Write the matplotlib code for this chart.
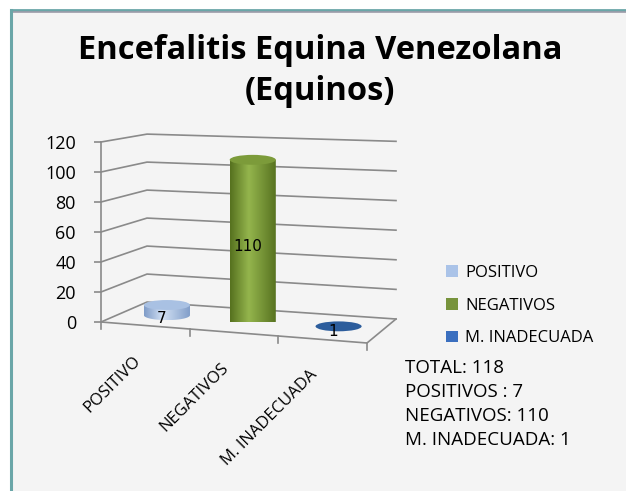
import numpy as np
import matplotlib
matplotlib.use("Agg")
import matplotlib.pyplot as plt
from matplotlib.patches import Ellipse, PathPatch, Patch, Rectangle
from matplotlib.path import Path
from matplotlib.colors import LinearSegmentedColormap
from matplotlib.lines import Line2D

# ---------------- data ----------------
categories = ["POSITIVO", "NEGATIVOS", "M. INADECUADA"]
values = [7, 110, 1]
yticks = [0, 20, 40, 60, 80, 100, 120]
title_lines = ["Encefalitis Equina Venezolana", "(Equinos)"]
summary_lines = ["TOTAL: 118", "POSITIVOS : 7", "NEGATIVOS: 110", "M. INADECUADA: 1"]

# ---------------- styles ----------------
legend_colors = ["#aac3e8", "#77933c", "#3b6fbf"]
body_dark = ["#7f9cc8", "#56711f", "#24528f"]
body_light = ["#d3e1f4", "#94b54d", "#3d71b5"]
top_colors = ["#a9c1e3", "#7c9b3a", "#2c5d9c"]
grid_col = "#8a8a8a"
FONT = "Open Sans"

W, H = 626, 491
fig = plt.figure(figsize=(W / 100, H / 100), dpi=100)
fig.patch.set_facecolor("white")
# chart area background + border
fig.patches.append(Rectangle((10 / W, 0), 1 - 10 / W, 1 - 10 / H, transform=fig.transFigure,
                             facecolor="#f4f4f4", edgecolor="none", zorder=-5))
fig.add_artist(Line2D([10.5 / W, 1], [1 - 9.5 / H, 1 - 9.5 / H], color="#6aa6a8", lw=2.0, zorder=-4))
fig.add_artist(Line2D([10.5 / W, 1], [1 - 11.5 / H, 1 - 11.5 / H], color="#9a9aa8", lw=1.2, zorder=-4))
fig.add_artist(Line2D([10.5 / W, 10.5 / W], [0, 1 - 9.5 / H], color="#6aa6a8", lw=2.2, zorder=-4))

# plot axes: front-left vertical edge = value axis
x0px, x1px, y0px, y1px = 101, 367, 322, 142
ax = fig.add_axes([x0px / W, 1 - y0px / H, (x1px - x0px) / W, (y0px - y1px) / H])
ax.set_facecolor("none")
ncat = len(categories)

FL0 = np.array([0.0, 0.0]); FR0 = np.array([3.0, -14.0])
BL0 = np.array([0.519, 13.3]); BR0 = np.array([3.327, 2.0])
sFL, sFR, sBL, sBR = 1.0, 1.0, 0.933, 0.987


def proj(c, v, d):
    u = c / ncat
    front = FL0 + u * (FR0 - FL0)
    back = BL0 + u * (BR0 - BL0)
    base = front + d * (back - front)
    s = (sFL + u * (sFR - sFL)) * (1 - d) + (sBL + u * (sBR - sBL)) * d
    return base[0], base[1] + v * s


# gridlines: left wall + back wall
for t in yticks:
    p0 = proj(0, t, 0); p1 = proj(0, t, 1); p2 = proj(ncat, t, 1)
    ax.plot([p0[0], p1[0], p2[0]], [p0[1], p1[1], p2[1]], color=grid_col, lw=1.2,
            clip_on=False, zorder=1, solid_joinstyle="miter")
# floor front and right edges
pf = [proj(0, 0, 0), proj(ncat, 0, 0), proj(ncat, 0, 1)]
ax.plot([p[0] for p in pf], [p[1] for p in pf], color=grid_col, lw=1.2, clip_on=False, zorder=1)
# category tick marks on the front edge
for i in range(ncat + 1):
    p = proj(i, 0, 0)
    ax.plot([p[0], p[0]], [p[1], p[1] - 4.5], color=grid_col, lw=1.2, clip_on=False, zorder=1)

# cylinders
cw, eh = 0.52, 6.6
for i, (val, lab) in enumerate(zip(values, categories)):
    c = i + 0.5
    xb, yb = proj(c, 0, 0.5)
    xt, yt = proj(c, val, 0.5)
    th = np.linspace(np.pi, 2 * np.pi, 60)
    arc = np.column_stack([xb + cw / 2 * np.cos(th), yb + eh / 2 * np.sin(th)])
    verts = np.vstack([[[xb - cw / 2, yt]], arc, [[xb + cw / 2, yt]], [[xb - cw / 2, yt]]])
    codes = [Path.MOVETO] + [Path.LINETO] * (len(verts) - 2) + [Path.CLOSEPOLY]
    body = PathPatch(Path(verts, codes), facecolor="none", edgecolor="none", clip_on=False)
    ax.add_patch(body)
    cmap = LinearSegmentedColormap.from_list("c%d" % i, [body_dark[i], body_light[i], body_dark[i]])
    g = np.interp(np.linspace(0, 1, 100), [0, 0.4, 1], [0, 0.5, 1]).reshape(1, -1)
    im = ax.imshow(g, extent=[xb - cw / 2, xb + cw / 2, yb - eh / 2, yt], cmap=cmap,
                   aspect="auto", origin="lower", zorder=3, interpolation="bilinear")
    im.set_clip_path(body)
    im.set_clip_box(None)
    ax.add_patch(Ellipse((xt, yt), cw, eh, facecolor=top_colors[i], edgecolor="none",
                         zorder=4, clip_on=False))
    ty = yb + val * 0.96 / 2 - 2.5 if val > 20 else yb - 2.5
    ax.text(xb - 0.06, ty, str(val), ha="center", va="center", fontsize=11,
            family="DejaVu Sans", color="black", zorder=6)

    # category labels
    pf_ = proj(c, 0, 0)
    ax.text(pf_[0] - 0.02, pf_[1] - 18, lab, rotation=45, ha="right", va="top",
            fontsize=12, family=FONT, color="black")

ax.set_xlim(0, ncat)
ax.set_ylim(0, 120)
ax.set_yticks(yticks)
ax.set_xticks([])
for sp in ["top", "right", "bottom"]:
    ax.spines[sp].set_visible(False)
ax.spines["left"].set_color(grid_col)
ax.spines["left"].set_linewidth(1.2)
ax.tick_params(axis="y", length=5, color=grid_col, width=1.2, pad=13, labelsize=13)
for tl in ax.get_yticklabels():
    tl.set_family(FONT)

# title
fig.text(320 / W, 1 - 50 / H, title_lines[0], ha="center", va="center", fontsize=23.5,
         fontweight="bold", family=FONT)
fig.text(320 / W, 1 - 92 / H, title_lines[1], ha="center", va="center", fontsize=23.5,
         fontweight="bold", family=FONT)

# legend
handles = [Patch(facecolor=legend_colors[i], edgecolor="none") for i in range(ncat)]
fig.legend(handles, categories, loc="upper left", bbox_to_anchor=(431 / W, 1 - 250 / H),
           frameon=False, handlelength=0.7, handleheight=0.7, handletextpad=0.45,
           labelspacing=1.0, prop={"family": FONT, "size": 12})

# summary text
for k, s in enumerate(summary_lines):
    fig.text(405 / W, 1 - (368 + 24 * k) / H, s, ha="left", va="center", fontsize=13.5,
             family=FONT)

fig.savefig("out.png", dpi=100, facecolor=fig.get_facecolor())
